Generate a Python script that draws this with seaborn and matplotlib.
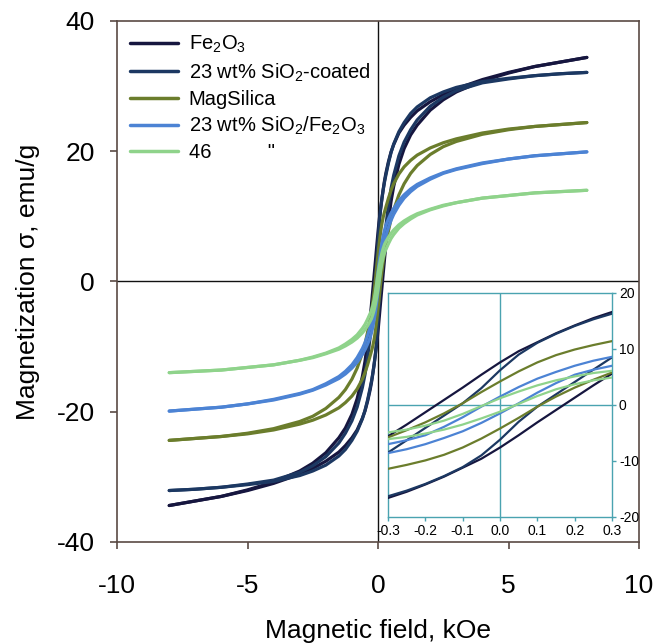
import numpy as np
import pandas as pd
import seaborn as sns
from matplotlib import pyplot as plt

# field grid, kOe (same for every branch)
field = [-8, -7, -6, -5, -4, -3, -2.5, -2, -1.5, -1.25, -1, -0.8, -0.6, -0.5, -0.4,
         -0.3, -0.25, -0.2, -0.15, -0.1, -0.05, 0, 0.05, 0.1, 0.15, 0.2, 0.25, 0.3,
         0.4, 0.5, 0.6, 0.8, 1, 1.25, 1.5, 2, 2.5, 3, 4, 5, 6, 7, 8]

# descending (upper) and ascending (lower) branches, emu/g
fe2o3_down = [-34.4, -33.7, -33.0, -32.0, -30.8, -29.1, -27.9, -26.3, -24.0, -22.5, -20.4, -18.0, -14.6, -12.3, -9.3,
              -5.6, -3.5, -1.3, 0.9, 3.1, 5.4, 7.6, 9.6, 11.2, 12.8, 14.2, 15.5, 16.6,
              18.4, 19.9, 21.0, 22.8, 24.0, 25.2, 26.2, 27.6, 28.7, 29.6, 31.0, 32.1, 33.0, 33.7, 34.4]
fe2o3_up = [-34.4, -33.7, -33.0, -32.1, -31.0, -29.6, -28.7, -27.6, -26.2, -25.2, -24.0, -22.8, -21.0, -19.9, -18.4,
            -16.6, -15.5, -14.2, -12.8, -11.2, -9.6, -7.6, -5.4, -3.1, -0.9, 1.3, 3.5, 5.6,
            9.3, 12.3, 14.6, 18.0, 20.4, 22.5, 24.0, 26.3, 27.9, 29.1, 30.8, 32.0, 33.0, 33.7, 34.4]

coated_down = [-32.1, -31.9, -31.6, -31.1, -30.5, -29.3, -28.3, -26.9, -24.8, -23.3, -21.4, -19.3, -16.3, -14.3, -11.7,
               -8.5, -6.3, -4.1, -1.9, 0.3, 3.0, 6.2, 9.0, 11.1, 12.7, 14.1, 15.3, 16.3,
               18.2, 19.8, 21.1, 23.0, 24.4, 25.8, 26.8, 28.2, 29.1, 29.8, 30.7, 31.2, 31.6, 31.9, 32.1]
coated_up = [-32.1, -31.9, -31.6, -31.2, -30.7, -29.8, -29.1, -28.2, -26.8, -25.8, -24.4, -23.0, -21.1, -19.8, -18.2,
             -16.3, -15.3, -14.1, -12.7, -11.1, -9.0, -6.2, -3.0, -0.3, 1.9, 4.1, 6.3, 8.5,
             11.7, 14.3, 16.3, 19.3, 21.4, 23.3, 24.8, 26.9, 28.3, 29.3, 30.5, 31.1, 31.6, 31.9, 32.1]

magsilica_down = [-24.4, -24.1, -23.8, -23.3, -22.6, -21.5, -20.7, -19.5, -17.8, -16.6, -15.0, -13.3, -11.0, -9.6, -7.8,
                  -5.8, -4.5, -3.1, -1.5, 0.3, 2.3, 4.2, 6.0, 7.6, 8.9, 9.9, 10.7, 11.4,
                  12.8, 14.0, 15.0, 16.5, 17.6, 18.6, 19.4, 20.5, 21.3, 21.9, 22.8, 23.4, 23.8, 24.1, 24.4]
magsilica_up = [-24.4, -24.1, -23.8, -23.4, -22.8, -21.9, -21.3, -20.5, -19.4, -18.6, -17.6, -16.5, -15.0, -14.0, -12.8,
                -11.4, -10.7, -9.9, -8.9, -7.6, -6.0, -4.2, -2.3, -0.3, 1.5, 3.1, 4.5, 5.8,
                7.8, 9.6, 11.0, 13.3, 15.0, 16.6, 17.8, 19.5, 20.7, 21.5, 22.6, 23.3, 23.8, 24.1, 24.4]

mix23_down = [-19.9, -19.6, -19.3, -18.8, -18.1, -17.2, -16.6, -15.7, -14.6, -13.8, -12.8, -11.7, -10.3, -9.4, -8.3,
              -7.0, -6.3, -5.4, -3.9, -2.2, -0.3, 1.5, 3.2, 4.7, 5.9, 7.0, 7.9, 8.6,
              9.6, 10.5, 11.2, 12.4, 13.3, 14.2, 14.9, 15.9, 16.7, 17.3, 18.2, 18.8, 19.3, 19.6, 19.9]
mix23_up = [-19.9, -19.6, -19.3, -18.8, -18.2, -17.3, -16.7, -15.9, -14.9, -14.2, -13.3, -12.4, -11.2, -10.5, -9.6,
            -8.6, -7.9, -7.0, -5.9, -4.7, -3.2, -1.5, 0.3, 2.2, 3.9, 5.4, 6.3, 7.0,
            8.3, 9.4, 10.3, 11.7, 12.8, 13.8, 14.6, 15.7, 16.6, 17.2, 18.1, 18.8, 19.3, 19.6, 19.9]

mix46_down = [-14.0, -13.8, -13.6, -13.2, -12.8, -12.1, -11.6, -11.0, -10.2, -9.6, -8.9, -8.2, -7.2, -6.6, -5.8,
              -4.9, -4.4, -3.7, -2.8, -1.6, -0.2, 1.2, 2.4, 3.5, 4.4, 5.1, 5.7, 6.1,
              6.8, 7.4, 7.9, 8.7, 9.3, 9.9, 10.4, 11.1, 11.7, 12.1, 12.8, 13.2, 13.6, 13.8, 14.0]
mix46_up = [-14.0, -13.8, -13.6, -13.2, -12.8, -12.1, -11.7, -11.1, -10.4, -9.9, -9.3, -8.7, -7.9, -7.4, -6.8,
            -6.1, -5.7, -5.1, -4.4, -3.5, -2.4, -1.2, 0.2, 1.6, 2.8, 3.7, 4.4, 4.9,
            5.8, 6.6, 7.2, 8.2, 8.9, 9.6, 10.2, 11.0, 11.6, 12.1, 12.8, 13.2, 13.6, 13.8, 14.0]

labels = [r'Fe$_2$O$_3$', r'23 wt% SiO$_2$-coated', 'MagSilica',
          r'23 wt% SiO$_2$/Fe$_2$O$_3$', '46          "']
colors = ['#16163f', '#1c3862', '#6b7d2c', '#4c83d4', '#8fd38b']
branches = [(fe2o3_down, fe2o3_up), (coated_down, coated_up), (magsilica_down, magsilica_up),
            (mix23_down, mix23_up), (mix46_down, mix46_up)]

sns.set_style('ticks')
plt.rcParams['font.family'] = ['Liberation Sans', 'DejaVu Sans']
plt.rcParams['mathtext.fontset'] = 'custom'
plt.rcParams['mathtext.rm'] = 'Liberation Sans'
plt.rcParams['mathtext.it'] = 'Liberation Sans'
plt.rcParams['axes.unicode_minus'] = False
plt.rcParams['text.color'] = 'black'
plt.rcParams['axes.labelcolor'] = 'black'
plt.rcParams['xtick.labelcolor'] = 'black'
plt.rcParams['ytick.labelcolor'] = 'black'

spine_col = '#5a4a44'
teal = '#4aa3b0'

fig = plt.figure(figsize=(6.56, 6.43), dpi=100)
ax = fig.add_axes([0.1784, 0.1571, 0.7957, 0.8103])

ax.axhline(0, color='#111111', lw=1.0, zorder=1)
ax.axvline(0, color='#111111', lw=1.0, zorder=1)

for (down, up), lab, c in zip(branches, labels, colors):
    sns.lineplot(x=field, y=down, ax=ax, color=c, lw=2.3, label=lab, estimator=None, zorder=3)
    sns.lineplot(x=field, y=up, ax=ax, color=c, lw=2.3, estimator=None, zorder=3)

ax.set_xlim(-10, 10)
ax.set_ylim(-40, 40)
ax.set_xticks([-10, -5, 0, 5, 10])
ax.set_yticks([-40, -20, 0, 20, 40])
ax.tick_params(direction='out', length=5, width=1.2, color=spine_col, labelsize=19)
ax.tick_params(axis='x', pad=18)
ax.tick_params(axis='y', pad=11)
for s in ax.spines.values():
    s.set_color(spine_col)
    s.set_linewidth(1.2)
ax.set_xlabel('Magnetic field, kOe', fontsize=19)
ax.set_ylabel('Magnetization σ, emu/g', fontsize=19)
ax.xaxis.set_label_coords(0.5, -0.148)
ax.yaxis.set_label_coords(-0.148, 0.5)

leg = ax.legend(loc='upper left', bbox_to_anchor=(0.0, 1.0), frameon=False, fontsize=14.5,
                handlelength=2.4, handletextpad=0.5, labelspacing=0.3, borderaxespad=0.25)
for h in leg.get_lines():
    h.set_linewidth(2.5)

# inset: zoom on low-field region
axin = fig.add_axes([0.5915, 0.196, 0.3415, 0.3484])
axin.set_facecolor('white')
axin.axhline(0, color=teal, lw=1.0, zorder=1)
axin.axvline(0, color=teal, lw=1.0, zorder=1)
for (down, up), c in zip(branches, colors):
    sns.lineplot(x=field, y=down, ax=axin, color=c, lw=1.6, estimator=None, zorder=3)
    sns.lineplot(x=field, y=up, ax=axin, color=c, lw=1.6, estimator=None, zorder=3)
axin.set_xlim(-0.3, 0.3)
axin.set_ylim(-20, 20)
axin.set_xticks([-0.3, -0.2, -0.1, 0.0, 0.1, 0.2, 0.3])
axin.set_xticklabels(['-0.3', '-0.2', '-0.1', '0.0', '0.1', '0.2', '0.3'])
axin.set_yticks([-20, -10, 0, 10, 20])
axin.set_yticklabels(['-20', '-10', '0', '10', '20'])
axin.yaxis.tick_right()
axin.tick_params(direction='out', length=3, width=1, color=teal, labelsize=10, pad=2)
for s in axin.spines.values():
    s.set_color(teal)
    s.set_linewidth(1.0)
axin.set_xlabel('')
axin.set_ylabel('')
if axin.get_legend() is not None:
    axin.get_legend().remove()

fig.savefig('out.png', dpi=100)
